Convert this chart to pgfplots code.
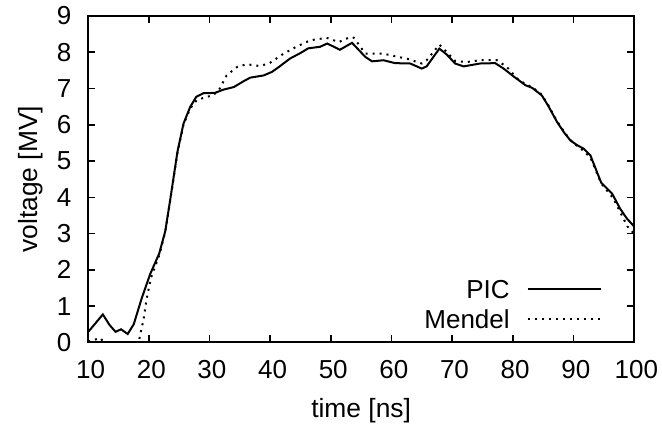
\documentclass[border=0pt]{standalone}
\usepackage{fontspec}
\setmainfont{Liberation Sans}
\usepackage{pgfplots}
\pgfplotsset{compat=1.18}
\begin{document}
\begin{tikzpicture}[font=\fontsize{13bp}{15bp}\selectfont]
\useasboundingbox (-44.15bp,-43.25bp) rectangle (286.9bp,171.2bp);
\begin{axis}[
  at={(0,0)}, anchor=south west,
  scale only axis,
  width=272.9bp, height=163.2bp,
  xmin=10, xmax=100, ymin=0, ymax=9,
  xtick={10,20,...,100}, ytick={0,1,...,9},
  axis line style={line width=1bp},
  every tick/.style={black, line width=0.8bp},
  major tick length=3.5bp,
  tick align=inside,
  tick label style={font=\fontsize{13bp}{15bp}\selectfont},
  label style={font=\fontsize{13.2bp}{15bp}\selectfont},
  /pgf/number format/assume math mode=true,
  xticklabel style={anchor=center, inner sep=0pt, yshift=-13.75bp, xshift=1.2bp},
  yticklabel style={anchor=east, inner sep=0pt, xshift=-8.3bp},
  xlabel={time [ns]}, ylabel={voltage [MV]},
  xlabel style={at={(axis description cs:0.5,-0.21)}, anchor=center},
  ylabel style={at={(axis description cs:-0.1063,0.5)}, anchor=center},
  legend style={at={(axis description cs:0.9408,0.0435)}, anchor=south east,
    draw=none, fill=none, inner sep=0pt, outer sep=0pt,
    row sep=5.4bp, column sep=8.5bp, font=\fontsize{13bp}{15bp}\selectfont,
    nodes={inner sep=0pt, text height=9.3bp, text depth=0bp}},
  legend cell align=right,
  legend plot pos=right,
  legend image code/.code={\draw[#1] (0bp,0bp) -- (36.5bp,0bp);},
]
\addplot[black, line width=1bp] coordinates {
(10,0.29) (12.4,0.77) (13.5,0.48) (14.5,0.29) (15.4,0.36) (16.5,0.23) (17.5,0.50)
(18.8,1.21) (20.2,1.88) (21.7,2.45) (22.7,3.07) (23.5,3.92) (24.7,5.25) (25.7,6.03)
(26.8,6.49) (27.8,6.77) (29.0,6.87) (30.9,6.88) (32.3,6.97) (34.0,7.04) (35.6,7.20)
(36.7,7.30) (38.9,7.36) (40.3,7.46) (41.4,7.59) (43.3,7.83) (45.0,7.98) (46.3,8.11)
(48.2,8.15) (49.4,8.24) (50.4,8.16) (51.5,8.07) (53.5,8.26) (55.7,7.87) (56.8,7.75)
(58.7,7.78) (60.6,7.70) (63.1,7.69) (65.0,7.55) (65.8,7.61) (67.9,8.10) (69.1,7.94)
(70.5,7.69) (71.9,7.61) (74.6,7.69) (77.1,7.70) (78.5,7.55) (80.1,7.34) (82.1,7.09)
(83.2,7.02) (84.8,6.81) (85.9,6.51) (87.3,6.08) (88.5,5.78) (89.5,5.57) (90.6,5.44)
(91.7,5.34) (92.8,5.16) (94.6,4.40) (96.4,4.10) (97.7,3.69) (98.8,3.42) (100,3.20)
};
\addlegendentry{PIC}
\addplot[black, line width=1bp, dash pattern=on 1bp off 2.5bp] coordinates {
(10,0.02) (12,0.12) (13,-0.1) (15,-0.5) (17,-0.5) (18.3,0.0) (19.1,0.62) (19.6,1.17)
(20.3,1.76) (21.7,2.40) (22.7,3.05) (23.5,3.90) (24.7,5.22) (25.7,6.00) (26.8,6.45)
(27.9,6.68) (29.5,6.77) (30.6,6.81) (31.7,7.00) (32.8,7.36) (34.5,7.59) (36.1,7.67)
(38.3,7.62) (39.9,7.70) (42.2,7.96) (44.4,8.16) (46.6,8.33) (49.3,8.40) (51.3,8.28)
(53.2,8.42) (53.8,8.40) (55.7,7.96) (58.7,7.96) (60.6,7.89) (62.6,7.82) (65.0,7.69)
(65.8,7.78) (67.9,8.21) (69.1,8.01) (70.5,7.76) (72.4,7.73) (74.6,7.78) (77.4,7.78)
(79.0,7.60) (80.7,7.28) (82.1,7.12) (83.2,7.04) (84.8,6.83) (85.9,6.53) (87.3,6.10)
(88.5,5.80) (89.5,5.58) (90.6,5.42) (91.7,5.28) (92.8,5.10) (94.6,4.38) (96.6,3.97)
(97.7,3.60) (98.9,3.20) (100,3.00)
};
\addlegendentry{Mendel}
\end{axis}
\end{tikzpicture}
\end{document}
